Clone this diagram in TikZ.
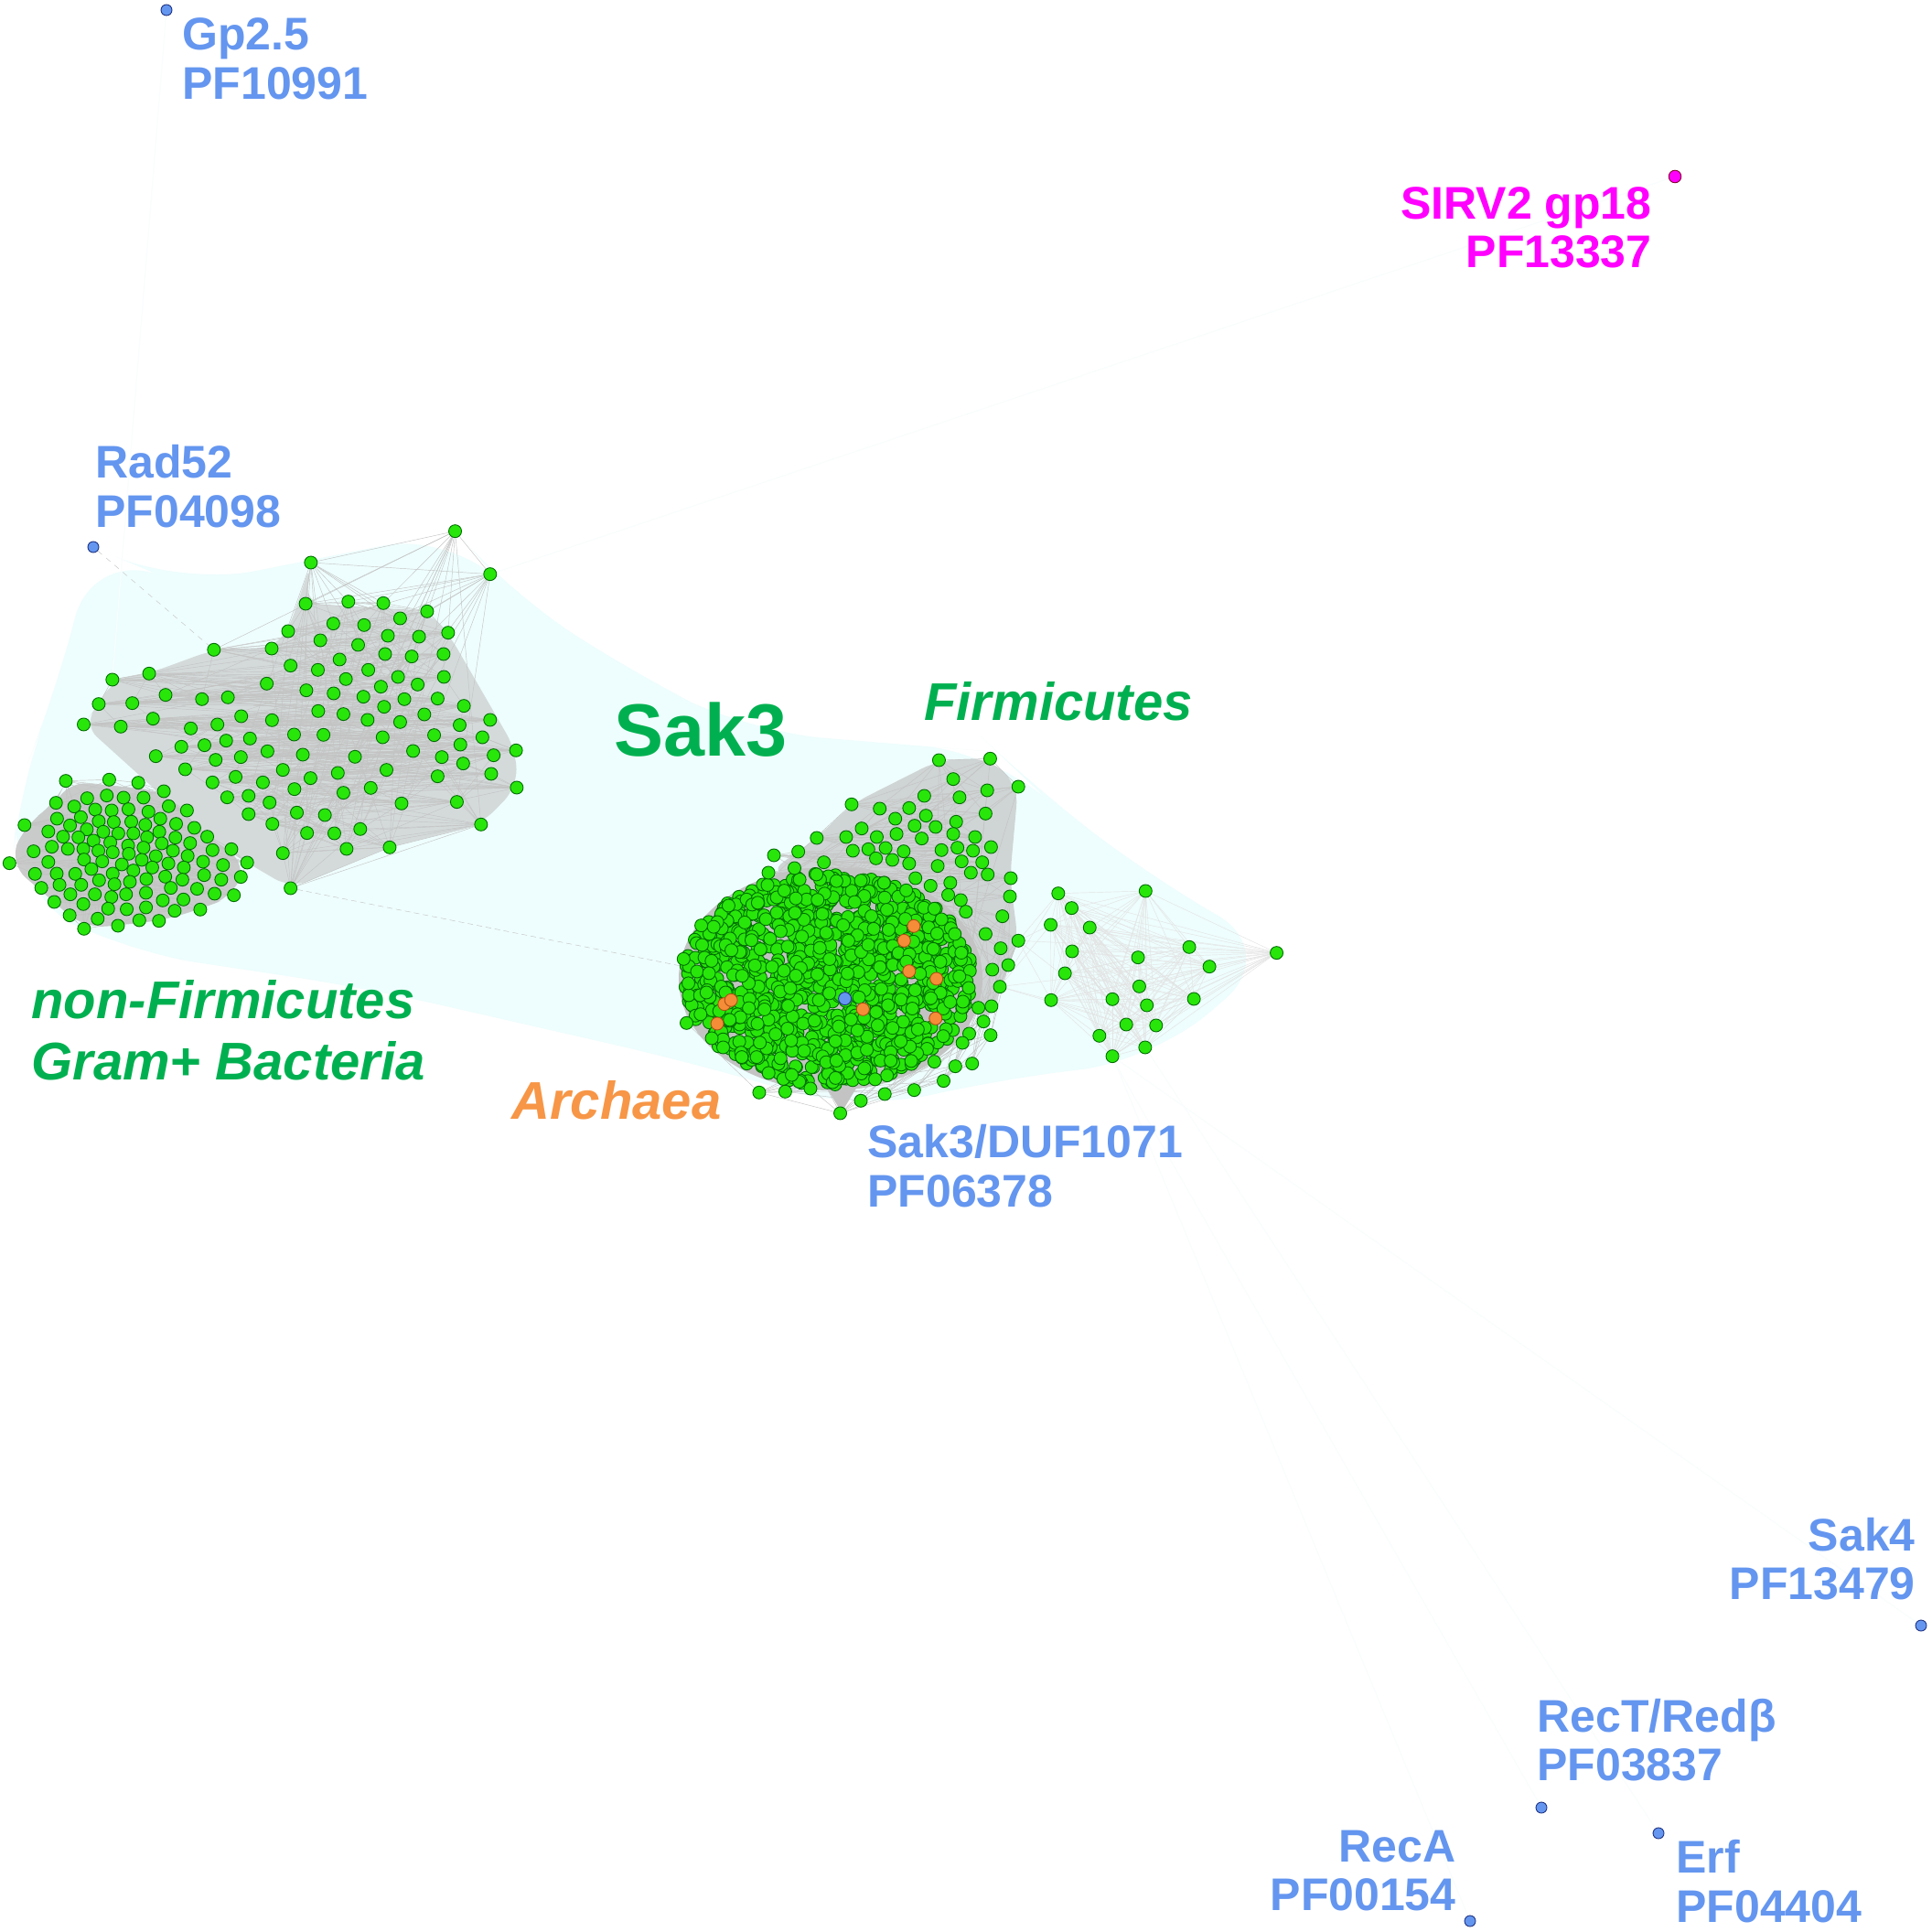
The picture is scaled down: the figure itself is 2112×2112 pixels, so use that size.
\documentclass[tikz,border=0pt]{standalone}
\usepackage{fontspec}
\setmainfont{Liberation Sans}
\usetikzlibrary{backgrounds}
\definecolor{gfill}{RGB}{40,230,10}
\definecolor{gdraw}{RGB}{0,110,0}
\definecolor{bfill}{RGB}{100,150,240}
\definecolor{bdraw}{RGB}{30,50,130}
\definecolor{ofill}{RGB}{245,140,55}
\definecolor{odraw}{RGB}{170,80,20}
\definecolor{lblue}{RGB}{100,150,240}
\definecolor{tgreen}{RGB}{0,176,80}
\definecolor{torange}{RGB}{247,150,70}
\definecolor{cyanbg}{RGB}{238,253,253}
\definecolor{cyanfaint}{RGB}{249,253,253}
\definecolor{edgegray}{RGB}{195,195,195}
\definecolor{mag}{RGB}{255,0,255}
\begin{document}
\begin{tikzpicture}[x=0.5pt,y=-0.5pt,
  gnode/.style={circle,fill=gfill,draw=gdraw,line width=0.45pt,minimum size=7pt,inner sep=0pt},
  bnode/.style={circle,fill=bfill,draw=bdraw,line width=0.45pt,minimum size=6pt,inner sep=0pt},
  onode/.style={circle,fill=ofill,draw=odraw,line width=0.45pt,minimum size=7pt,inner sep=0pt},
  mnode/.style={circle,fill=mag,draw=purple!70!black,line width=0.45pt,minimum size=6.8pt,inner sep=0pt},
  lnk/.style={draw=edgegray,line width=0.22pt},
  faintln/.style={draw=cyanfaint,line width=0.5pt},
  lbl/.style={inner sep=0pt,anchor=base west,text=lblue,font=\fontsize{25}{27}\selectfont\bfseries},
  lblr/.style={lbl,anchor=base east},
  glbl/.style={inner sep=0pt,anchor=base west,text=tgreen,font=\fontsize{29}{33}\selectfont\bfseries\itshape},
]
\useasboundingbox (0,0) rectangle (2112,2112);
\begin{scope}[on background layer]
  \fill[white] (0,0) rectangle (2112,2112);
  \fill[cyanbg,rounded corners=40pt] (102,598) -- (200,640) -- (340,612) -- (498,581) -- (560,650)
    -- (700,740) -- (820,800) -- (1000,815) -- (1090,822) -- (1130,860) -- (1260,960)
    -- (1400,1040) -- (1260,1160) -- (1090,1180) -- (940,1215) -- (750,1160) -- (400,1080)
    -- (135,1040) -- (12,975) -- (20,860) -- (60,760) -- cycle;
  % gray edge masses
  \fill[edgegray,opacity=0.6,rounded corners=10pt] (340,615) -- (334,660) -- (467,668) -- (490,692)
    -- (564,820) -- (565,861) -- (526,901) -- (426,926) -- (318,971) -- (270,943) -- (227,915)
    -- (91,792) -- (108,770) -- (123,743) -- (163,736) -- (234,710) -- (297,709) -- (315,690) -- cycle;
  \fill[edgegray,opacity=0.85,rounded corners=12pt] (72,854) -- (179,865) -- (227,915) -- (270,943)
    -- (256,979) -- (219,994) -- (174,1007) -- (92,1015) -- (59,986) -- (10,944) -- (27,902) -- (61,878) -- cycle;
  \fill[edgegray,opacity=0.7,rounded corners=10pt] (931,879) -- (1026,831) -- (1082,829) -- (1113,860)
    -- (1104,960) -- (1113,1028) -- (1080,1120) -- (1000,1000) -- (893,960) -- (840,954) -- (893,916) -- cycle;
  \fill[edgegray] (908,1070) ellipse [x radius=166, y radius=122];
  \fill[edgegray] (880,1150) -- (960,1150) -- (920,1216) -- cycle;
\end{scope}

% ---------- left cluster, upper part ----------
\begin{scope}[shift={(0,560)},xscale=0.3827,yscale=0.3333]
\foreach \x/\y [count=\i] in {1300/62, 1400/203, 888/165,
 873/300, 995/293, 1095/298, 1220/325, 1143/348,
 823/390, 952/365, 1040/370, 1280/395, 1108/405, 1197/408,
 915/420, 1023/435, 776/447, 611/451,
 830/503, 908/517, 970/483, 1052/517, 1100/465, 1176/473, 1267/465,
 988/547, 1137/540, 1268/540, 1088/572, 1193/565, 762/562,
 321/549, 426/529, 473/599, 577/613, 651/607, 282/629, 378/626,
 875/584, 953/594, 1038/605, 1155/613, 1250/611, 1097/638, 1325/635,
 909/652, 981/662, 1050/681, 1143/688, 1212/663, 1400/681, 1313/698,
 239/696, 345/703, 437/677, 545/709, 621/696, 689/669, 777/682, 714/742,
 840/729, 924/730, 1093/738, 1240/731, 1378/738, 1315/762, 1474/781,
 518/769, 584/764, 646/749, 764/784, 688/803, 616/812, 445/800, 865/795, 1014/802, 1180/783, 1262/803, 1410/797,
 529/843, 808/845, 965/855, 1104/845, 1323/824, 1403/858, 1250/866, 1476/903,
 607/886, 673/868, 751/886, 887/872, 841/908, 1059/904, 981/920, 1147/955, 1305/950,
 649/935, 710/930, 770/952, 848/985, 928/993, 710/990, 778/1022, 877/1052, 955/1053, 1029/1039,
 990/1104, 1113/1099, 1374/1024, 808/1118, 830/1233}
 {\node[gnode] (LU\i) at (\x,\y) {}; \xdef\NLU{\i}}
% ---------- left cluster, dense lower blob ----------
\foreach \x/\y [count=\i] in {188/881, 312/877, 395/887, 468/915,
 160/953, 249/938, 305/929, 353/936, 410/936, 482/964, 534/978,
 212/965, 272/975, 319/978, 367/974, 424/982,
 70/1026, 163/1005, 231/1000, 282/1013, 325/1016, 375/1015, 415/1025, 458/1005, 503/1022, 555/1035, 592/1064,
 138/1047, 200/1027, 248/1040, 295/1048, 338/1053, 381/1053, 420/1066, 455/1048, 501/1067, 543/1085, 607/1108, 661/1105, 706/1149,
 96/1112, 180/1064, 224/1066, 267/1077, 315/1083, 366/1093, 410/1100, 462/1086, 494/1110, 536/1127, 580/1146, 637/1157, 688/1196,
 27/1151, 148/1097, 194/1104, 238/1104, 281/1110, 322/1115, 368/1120, 405/1140, 445/1128, 481/1152, 525/1165, 583/1190, 632/1205,
 100/1186, 138/1147, 240/1139, 292/1145, 348/1155, 435/1165, 472/1195, 521/1205, 563/1235, 613/1251, 668/1256,
 118/1232, 162/1185, 215/1186, 261/1170, 322/1185, 381/1175, 418/1203, 488/1232, 524/1270, 572/1303,
 155/1278, 170/1222, 232/1222, 283/1207, 327/1220, 371/1212, 417/1248, 465/1273, 499/1307,
 199/1322, 201/1253, 271/1253, 318/1262, 360/1253, 238/1285, 309/1300, 362/1302, 417/1296, 454/1340,
 398/1338, 337/1356, 279/1333, 240/1366}
 {\node[gnode] (LB\i) at (\x,\y) {}; \xdef\NLB{\i}}
\end{scope}

% ---------- central dense blob ----------
\pgfmathsetseed{20231}
\foreach \i in {1,...,1150}{
  \pgfmathsetmacro\rr{sqrt(rnd)}
  \pgfmathsetmacro\aa{360*rnd}
  \node[gnode] (CB\i) at ({906+158*\rr*cos(\aa)},{1070+116*\rr*sin(\aa)}) {};
}
\begin{scope}[shift={(700,800)},xscale=0.4591,yscale=0.3333]
\foreach \x/\y [count=\i] in {711/93, 833/88, 745/155, 826/192, 900/180, 676/210, 760/215, 503/238, 570/252, 640/250,
 822/268, 680/275, 607/285, 752/295, 527/317, 653/308, 703/312, 745/335, 797/345, 490/345, 563/345, 610/335, 670/350,
 835/378, 420/348, 543/385, 584/381, 627/392, 717/388, 755/380, 792/390, 506/390, 561/415, 600/420, 640/432, 708/440,
 765/425, 814/428, 318/405, 376/393, 437/428, 655/480, 691/505, 738/495, 787/462, 827/468, 882/480, 305/462, 367/447,
 580/495, 525/488, 633/520, 733/535, 763/552, 880/540, 700/580, 775/590, 862/605, 822/663, 900/685, 876/765, 858/710,
 838/780, 856/836, 836/900, 817/950, 834/995, 790/1088, 750/1097, 722/1145, 652/1175, 582/1188, 525/1210, 476/1251,
 405/1170, 345/1180, 283/1183, 805/905, 768/885, 782/840, 783/990, 767/1020, 700/1082, 210/570, 145/635, 103/745, 110/955, 170/1005}
 {\node[gnode] (CU\i) at (\x,\y) {}; \xdef\NCU{\i}}
\foreach \x/\y [count=\i] in {995/530, 1203/522, 1027/578, 977/633, 1070/642, 1028/720, 1185/740, 1307/706, 1515/725,
 1355/770, 1011/792, 1188/835, 978/880, 1124/877, 1206/897, 1318/876, 1157/960, 1228/963, 1093/997, 1202/1035, 1124/1064}
 {\node[gnode] (CR\i) at (\x,\y) {}; \xdef\NCR{\i}}
\foreach \x/\y [count=\i] in {651/637, 628/685, 640/785, 705/810, 530/910, 703/940, 200/893, 216/880, 183/957}
 {\node[onode] (CO\i) at (\x,\y) {};}
\node[bnode,minimum size=7pt] (bc) at (487,875) {};
\end{scope}

% ---------- outlying family nodes ----------
\node[bnode] (gpn) at (182,11) {};
\node[bnode] (rad) at (102,598) {};
\node[mnode] (sirv) at (1831,193) {};
\node[bnode] (sak4) at (2100,1777) {};
\node[bnode] (rect) at (1685,1976) {};
\node[bnode] (erf) at (1813,2004) {};
\node[bnode] (reca) at (1607,2100) {};

% ---------- edges ----------
\begin{scope}[on background layer]
  \draw[faintln] (gpn) -- (LU32);
  \draw[faintln] (sirv) -- (LU2);
  \draw[faintln] (sak4) -- (CR21);
  \draw[faintln] (rect) -- (CR19);
  \draw[faintln] (erf) -- (CR20);
  \draw[faintln] (reca) -- (CR21);
  \draw[lnk,dashed] (rad) -- (LU18);
  \draw[lnk,densely dashed] (LU\NLU) -- (bc);
  \foreach \i in {1,...,\NLU}{\foreach \k in {1,2,3,5,7,11,17}{
     \pgfmathtruncatemacro\j{mod(\i+\k-1,\NLU)+1}\draw[lnk] (LU\i) -- (LU\j);}}
  \foreach \i in {1,...,\NLB}{\foreach \k in {1,3,8,13}{
     \pgfmathtruncatemacro\j{mod(\i+\k-1,\NLB)+1}\draw[lnk] (LB\i) -- (LB\j);}}
  \foreach \i in {1,...,\NCU}{\foreach \k in {1,3,6,10}{
     \pgfmathtruncatemacro\j{mod(\i+\k-1,\NCU)+1}\draw[lnk] (CU\i) -- (CU\j);}}
  \foreach \i in {1,...,\NCR}{\foreach \j in {\i,...,\NCR}{\ifnum\i<\j \draw[lnk,draw=gray!22] (CR\i) -- (CR\j);\fi}}
  \foreach \i in {1,4,9,13,17}{\draw[lnk,draw=gray!22] (CR\i) -- (CU60); \draw[lnk,draw=gray!22] (CR\i) -- (CU64);}
\end{scope}

% ---------- labels ----------
\node[lbl] (t1a) at (199,55) {Gp2.5};
\node[lbl] (t1b) at (199,109) {PF10991};
\node[lbl] (t2a) at (104,523) {Rad52};
\node[lbl] (t2b) at (104,576) {PF04098};
\node[lblr,text=mag] (t3a) at (1806,240) {SIRV2 gp18};
\node[lblr,text=mag] (t3b) at (1806,293) {PF13337};
\node[lbl] (t4a) at (948,1265) {Sak3/DUF1071};
\node[lbl] (t4b) at (948,1319) {PF06378};
\node[lblr] (t5a) at (2094,1695) {Sak4};
\node[lblr] (t5b) at (2094,1748) {PF13479};
\node[lbl] (t6a) at (1680,1893) {RecT/Redβ};
\node[lbl] (t6b) at (1680,1946) {PF03837};
\node[lblr] (t7a) at (1592,2035) {RecA};
\node[lblr] (t7b) at (1592,2088) {PF00154};
\node[lbl] (t8a) at (1832,2047) {Erf};
\node[lbl] (t8b) at (1832,2101) {PF04404};
\node[inner sep=0pt,anchor=base west,text=tgreen,font=\fontsize{40.5}{44}\selectfont\bfseries] (sak3) at (671,826) {Sak3};
\node[glbl] (firm) at (1010,787) {Firmicutes};
\node[glbl] (nf1) at (34,1113) {non-Firmicutes};
\node[glbl] (nf2) at (34,1180) {Gram+ Bacteria};
\node[glbl,text=torange] (arch) at (559,1223) {Archaea};
\end{tikzpicture}
\end{document}
